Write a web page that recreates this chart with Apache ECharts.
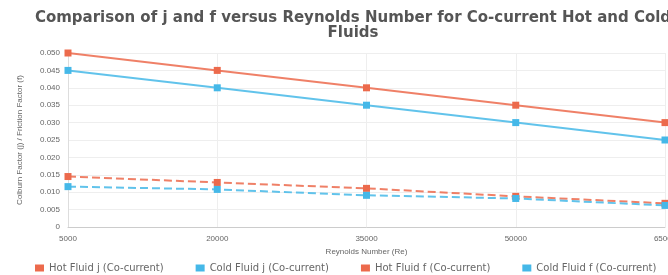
<!DOCTYPE html>
<html>
<head>
<meta charset="UTF-8">
<title>j and f versus Reynolds Number</title>
<script src="https://cdn.jsdelivr.net/npm/echarts@6/dist/echarts.min.js"></script>
<style>
html, body { margin: 0; padding: 0; background: #fff; }
#chart { width: 668px; height: 275px; }
</style>
</head>
<body>
<div id="chart"></div>
<script>
// Reynolds number categories
var reynolds = ['5000', '20000', '35000', '50000', '65000'];
// Colburn factor j
var hotJ = [0.050, 0.045, 0.040, 0.035, 0.030];
var coldJ = [0.045, 0.040, 0.035, 0.030, 0.025];
// friction factor f
var hotF = [0.0145, 0.0128, 0.0111, 0.0088, 0.0068];
var coldF = [0.0116, 0.0108, 0.0091, 0.0082, 0.0062];

var red = '#ec6a4c';
var blue = '#45b8e8';

var myChart = echarts.init(document.getElementById('chart'));

function lineSeries(name, data, color, dashed) {
    return {
        name: name,
        type: 'line',
        data: data,
        symbol: 'rect',
        symbolSize: 7,
        itemStyle: { color: color },
        lineStyle: { color: color, width: 2, type: dashed ? 'dashed' : 'solid', opacity: 0.85 }
    };
}

var option = {
    animation: false,
    title: {
        text: 'Comparison of j and f versus Reynolds Number for Co-current Hot and Cold\nFluids',
        left: 348,
        textAlign: 'center',
        top: 6,
        textStyle: { fontSize: 15, fontWeight: 'bold', color: '#555', lineHeight: 15, fontFamily: 'DejaVu Sans' }
    },
    legend: {
        top: 258,
        left: 30,
        width: 640,
        icon: 'rect',
        itemWidth: 9,
        itemHeight: 7,
        itemGap: 32,
        textStyle: { fontSize: 10, color: '#666', fontFamily: 'DejaVu Sans' },
        data: ['Hot Fluid j (Co-current)', 'Cold Fluid j (Co-current)', 'Hot Fluid f (Co-current)', 'Cold Fluid f (Co-current)']
    },
    grid: { left: 68, right: 3, top: 53, bottom: 48, outerBoundsMode: 'none' },
    xAxis: {
        type: 'category',
        boundaryGap: false,
        data: reynolds,
        name: 'Reynolds Number (Re)',
        nameLocation: 'middle',
        nameGap: 18,
        nameTextStyle: { fontSize: 8, color: '#666' },
        axisLine: { lineStyle: { color: '#ccc' } },
        axisTick: { show: false },
        axisLabel: { fontSize: 8, color: '#666', margin: 8 },
        splitLine: { show: true, lineStyle: { color: '#eee' } }
    },
    yAxis: {
        type: 'value',
        min: 0,
        max: 0.05,
        interval: 0.005,
        name: 'Colburn Factor (j) / Friction Factor (f)',
        nameLocation: 'middle',
        nameGap: 44,
        nameTextStyle: { fontSize: 8, color: '#666' },
        axisLine: { show: true, lineStyle: { color: '#ddd' } },
        axisLabel: {
            fontSize: 8, color: '#666',
            formatter: function (v) { return v === 0 ? '0' : v.toFixed(3); }
        },
        splitLine: { lineStyle: { color: '#eee' } }
    },
    series: [
        lineSeries('Hot Fluid j (Co-current)', hotJ, red, false),
        lineSeries('Cold Fluid j (Co-current)', coldJ, blue, false),
        lineSeries('Hot Fluid f (Co-current)', hotF, red, true),
        lineSeries('Cold Fluid f (Co-current)', coldF, blue, true)
    ]
};

myChart.setOption(option);
</script>
</body>
</html>
